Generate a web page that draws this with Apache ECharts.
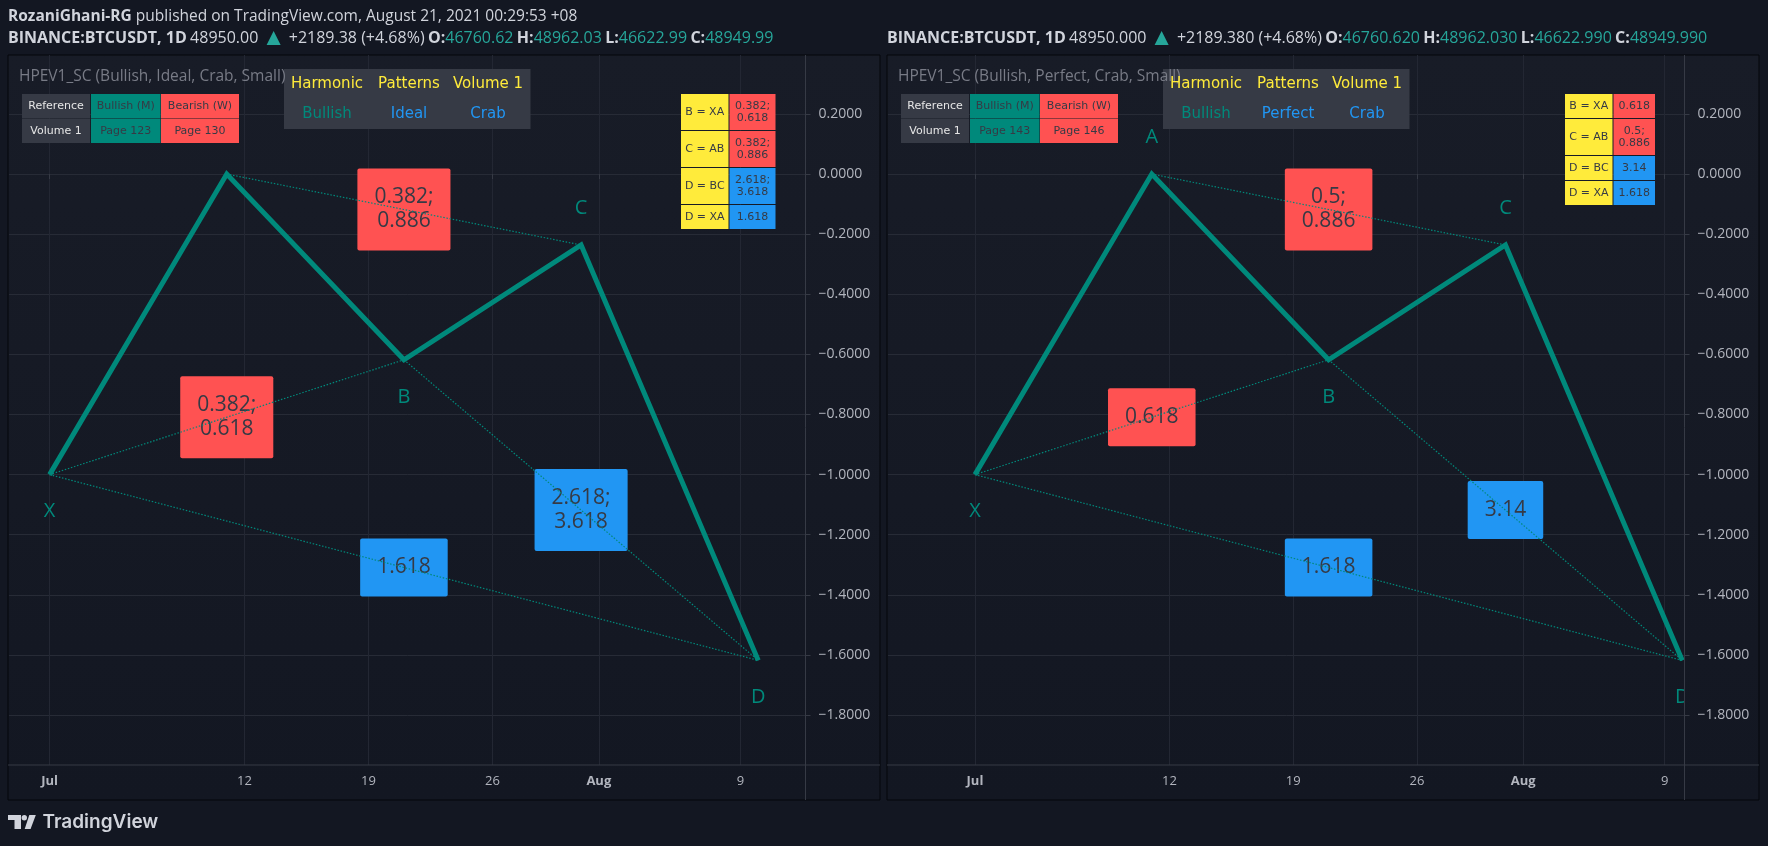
<!DOCTYPE html>
<html>
<head>
<meta charset="utf-8">
<title>HPEV1_SC Bullish Crab</title>
<style>
    html, body { margin: 0; padding: 0; height: 100%; background: #131722; }
    #chart { width: 1768px; height: 846px; }
</style>
<script src="https://cdn.jsdelivr.net/npm/echarts@6/dist/echarts.min.js"></script>
</head>
<body>
<div id="chart"></div>
<script>
const day = s => new Date(s + 'T00:00:00Z').getTime();

// pattern points, same for both panels
const pointNames = ['X', 'A', 'B', 'C', 'D'];
const pointDates = ['2021-07-01', '2021-07-11', '2021-07-21', '2021-07-31', '2021-08-10'];
const pointValues = [-1, 0, -0.618, -0.236, -1.618];
const pointLabelSide = [1, -1, 1, -1, 1]; // 1 = below the point

// dotted legs and the ratio boxes sitting on them
const dottedLegs = [['X', 'B'], ['A', 'C'], ['B', 'D'], ['X', 'D']];
const ratioDates = ['2021-07-11', '2021-07-21', '2021-07-31', '2021-07-21'];
const ratioValues = [-0.809, -0.118, -1.118, -1.309];
const ratioNames = ['B = XA', 'C = AB', 'D = BC', 'D = XA'];
const ratioColors = ['#ff5252', '#ff5252', '#2196f3', '#2196f3'];
const idealRatios = ['0.382;\n0.618', '0.382;\n0.886', '2.618;\n3.618', '1.618'];
const perfectRatios = ['0.618', '0.5;\n0.886', '3.14', '1.618'];

// axes
const priceTicks = [0.2, 0, -0.2, -0.4, -0.6, -0.8, -1, -1.2, -1.4, -1.6, -1.8];
const timeTicks = ['2021-07-01', '2021-07-12', '2021-07-19', '2021-07-26', '2021-08-01', '2021-08-09'];
const timeTickLabels = ['Jul', '12', '19', '26', 'Aug', '9'];
const monthTicks = ['Jul', 'Aug'];

// header texts
const publishedBy = 'RozaniGhani-RG';
const publishedOn = ' published on TradingView.com, August 21, 2021 00:29:53 +08';
const logoText = 'TradingView';
const symbolName = 'BINANCE:BTCUSDT, 1D';
const idealQuote = ['48950.00', '+2189.38 (+4.68%)', '46760.62', '48962.03', '46622.99', '48949.99'];
const perfectQuote = ['48950.000', '+2189.380 (+4.68%)', '46760.620', '48962.030', '46622.990', '48949.990'];

const headerRow = ['Harmonic', 'Patterns', 'Volume 1'];
const referenceRow = ['Reference', 'Bullish (M)', 'Bearish (W)'];

const TEAL = '#00897b';
const RED = '#ff5252';
const BLUE = '#2196f3';
const YELLOW = '#ffeb3b';
const DARK = '#363a45';
const GRID_H = '#272b36';
const GRID_V = '#232733';
const AXIS_TEXT = '#b2b5be';
const UI_FONT = '"Open Sans", "Noto Sans", sans-serif';
const TABLE_FONT = '"DejaVu Sans", sans-serif';

const panels = [
    {
        dx: 0, left: 9, right: 805.5, frameRight: 880,
        minDate: day('2021-06-28') + 17 * 3600e3, maxDate: day('2021-08-12') + 16 * 3600e3,
        quote: idealQuote, quoteX: 8,
        title: 'HPEV1_SC (Bullish, Ideal, Crab, Small)',
        kind: 'Ideal', pages: ['Page 123', 'Page 130'],
        ratios: idealRatios,
        ratioTable: { x: 681, split: 729, right: 775.5, rows: [[94, 130], [131, 167], [168, 204], [205, 229]] }
    },
    {
        dx: 879, left: 888, right: 1684.5, frameRight: 1759,
        minDate: day('2021-06-26') + 2 * 3600e3, maxDate: day('2021-08-10') + 3 * 3600e3,
        quote: perfectQuote, quoteX: 887,
        title: 'HPEV1_SC (Bullish, Perfect, Crab, Small)',
        kind: 'Perfect', pages: ['Page 143', 'Page 146'],
        ratios: perfectRatios,
        ratioTable: { x: 1565, split: 1613, right: 1655, rows: [[94, 118], [119, 155], [156, 180], [181, 205]] }
    }
];

const TOP = 55, AXIS_Y = 765, BOTTOM = 800;

function cell(x, y, w, h, fill, text, color, fontSize, font, fontWeight) {
    const cx = x + w / 2, cy = y + h / 2;
    const out = [{
        type: 'rect', z: 20,
        shape: { x, y, width: w, height: h },
        style: { fill }
    }];
    if (text) {
        out.push({
            type: 'text', z: 21, x: cx, y: cy,
            style: {
                text, fill: color, font: `${fontWeight || 'normal'} ${fontSize}px ${font || TABLE_FONT}`,
                align: 'center', verticalAlign: 'middle', lineHeight: fontSize + 1
            }
        });
    }
    return out;
}

function quoteText(panel) {
    const q = panel.quote;
    return {
        type: 'text', z: 30, x: panel.quoteX, y: 38.5,
        style: {
            text: `{b|${symbolName}} {n|${q[0]}} {t|▲} {n|${q[1]}} {b|O:}{v|${q[2]}} {b|H:}{v|${q[3]}} {b|L:}{v|${q[4]}} {b|C:}{v|${q[5]}}`,
            verticalAlign: 'middle',
            rich: {
                b: { font: `bold 16px ${UI_FONT}`, fill: '#d1d4dc' },
                n: { font: `16px ${UI_FONT}`, fill: '#d1d4dc' },
                v: { font: `16px ${UI_FONT}`, fill: '#26a69a' },
                t: { font: `24px ${UI_FONT}`, fill: '#26a69a' }
            }
        }
    };
}

function buildPanelGraphics(panel) {
    const dx = panel.dx;
    let out = [
        {
            type: 'rect', z: -5,
            shape: { x: panel.left - 1, y: TOP, width: panel.frameRight - panel.left + 1, height: BOTTOM - TOP },
            style: {
                fill: new echarts.graphic.LinearGradient(0, 0, 0, 1, [
                    { offset: 0, color: '#181c27' }, { offset: 1, color: '#131722' }
                ]),
                stroke: '#05070b', lineWidth: 1
            }
        },
        {
            type: 'line', z: 5,
            shape: { x1: panel.left - 1, y1: AXIS_Y, x2: panel.frameRight, y2: AXIS_Y },
            style: { stroke: DARK, lineWidth: 1 }
        },
        {
            type: 'line', z: 5,
            shape: { x1: panel.right, y1: TOP, x2: panel.right, y2: BOTTOM },
            style: { stroke: DARK, lineWidth: 1 }
        },
        quoteText(panel),
        {
            type: 'text', z: 30, x: 19 + dx, y: 77,
            style: { text: panel.title, fill: '#787b86', font: `15.5px ${UI_FONT}`, verticalAlign: 'middle' }
        }
    ];

    // Harmonic Patterns heading
    out = out.concat(cell(284 + dx, 69, 246.5, 60, DARK));
    const heading = [headerRow, ['Bullish', panel.kind, 'Crab']];
    const headingColors = [[YELLOW, YELLOW, YELLOW], [TEAL, BLUE, BLUE]];
    [84.5, 114].forEach((y, r) => {
        [327, 409, 488].forEach((x, c) => {
            out.push({
                type: 'text', z: 31, x: x + dx, y,
                style: {
                    text: heading[r][c], fill: headingColors[r][c], font: `15px ${TABLE_FONT}`,
                    align: 'center', verticalAlign: 'middle'
                }
            });
        });
    });

    // reference table
    const refRows = [referenceRow, ['Volume 1', ...panel.pages]];
    [[94, 24.5], [119, 24]].forEach(([y, h], r) => {
        out = out.concat(cell(22 + dx, y, 68, h, DARK, refRows[r][0], '#e6e6e6', 11));
        out = out.concat(cell(91 + dx, y, 69.5, h, TEAL, refRows[r][1], DARK, 11));
        out = out.concat(cell(161 + dx, y, 78, h, RED, refRows[r][2], DARK, 11));
    });

    // ratio table
    const t = panel.ratioTable;
    t.rows.forEach(([y0, y1], r) => {
        out = out.concat(cell(t.x, y0, t.split - t.x - 0.5, y1 - y0, YELLOW, ratioNames[r], DARK, 11));
        out = out.concat(cell(t.split + 0.5, y0, t.right - t.split - 0.5, y1 - y0, ratioColors[r], panel.ratios[r], DARK, 11));
    });
    return out;
}

const LOGO = '#d1d4dc';
const logoGraphics = [
    { type: 'polygon', z: 30, shape: { points: [[8, 815], [21, 815], [21, 829], [14.5, 829], [14.5, 820], [8, 820]] }, style: { fill: LOGO } },
    { type: 'circle', z: 30, shape: { cx: 24.3, cy: 817.7, r: 2.7 }, style: { fill: LOGO } },
    { type: 'polygon', z: 30, shape: { points: [[29.3, 815], [35.8, 815], [30.6, 829], [24.7, 829]] }, style: { fill: LOGO } },
    {
        type: 'text', z: 30, x: 42.5, y: 822,
        style: { text: logoText, fill: LOGO, font: `600 19px Inter, ${UI_FONT}`, verticalAlign: 'middle' }
    }
];

const publishedGraphic = {
    type: 'text', z: 30, x: 8, y: 17,
    style: {
        text: `{b|${publishedBy}}{n|${publishedOn}}`,
        verticalAlign: 'middle',
        rich: {
            b: { font: `bold 15.5px ${UI_FONT}`, fill: '#d1d4dc' },
            n: { font: `15.5px ${UI_FONT}`, fill: '#d1d4dc' }
        }
    }
};

function pointCoord(name) {
    const i = pointNames.indexOf(name);
    return [day(pointDates[i]), pointValues[i]];
}

function buildSeries(panelIndex) {
    const panel = panels[panelIndex];
    const axisIds = { xAxisIndex: panelIndex, yAxisIndex: panelIndex };
    const series = [];

    // ratio boxes sit under the dotted legs
    series.push({
        ...axisIds,
        type: 'custom',
        z: 2,
        clip: true,
        silent: true,
        data: ratioDates.map((d, i) => [day(d), ratioValues[i]]),
        renderItem: (params, api) => {
            const p = api.coord([api.value(0), api.value(1)]);
            return {
                type: 'text',
                x: p[0],
                y: p[1],
                style: {
                    text: panel.ratios[params.dataIndex],
                    fill: DARK,
                    font: `21px ${UI_FONT}`,
                    lineHeight: 24,
                    align: 'center',
                    verticalAlign: 'middle',
                    backgroundColor: ratioColors[params.dataIndex],
                    padding: [17, 17],
                    borderRadius: 2
                }
            };
        }
    });

    dottedLegs.forEach(leg => {
        series.push({
            ...axisIds,
            type: 'line',
            z: 3,
            silent: true,
            animation: false,
            symbol: 'none',
            data: leg.map(pointCoord),
            lineStyle: { color: TEAL, width: 1.2, type: [1.5, 1.7] }
        });
    });

    series.push({
        ...axisIds,
        type: 'line',
        z: 4,
        silent: true,
        animation: false,
        symbol: 'none',
        data: pointNames.map(pointCoord),
        lineStyle: { color: TEAL, width: 5, join: 'miter', cap: 'butt' }
    });

    // X A B C D letters, clipped at the price axis like the original
    series.push({
        ...axisIds,
        type: 'custom',
        z: 4,
        clip: true,
        silent: true,
        data: pointNames.map(pointCoord),
        renderItem: (params, api) => {
            const p = api.coord([api.value(0), api.value(1)]);
            return {
                type: 'text',
                x: p[0],
                y: p[1] + pointLabelSide[params.dataIndex] * 37,
                style: {
                    text: pointNames[params.dataIndex],
                    fill: TEAL,
                    font: `20px ${UI_FONT}`,
                    align: 'center',
                    verticalAlign: 'middle'
                }
            };
        }
    });
    return series;
}

const myChart = echarts.init(document.getElementById('chart'), null, { renderer: 'canvas' });

const option = {
    animation: false,
    backgroundColor: '#131722',
    grid: panels.map(p => ({
        left: p.left,
        width: p.right - p.left,
        top: TOP,
        height: AXIS_Y - TOP
    })),
    xAxis: panels.map((p, i) => ({
        type: 'value',
        gridIndex: i,
        min: p.minDate,
        max: p.maxDate,
        axisLine: { show: false },
        axisTick: { show: true, length: 5, lineStyle: { color: DARK }, customValues: timeTicks.map(day) },
        splitLine: { show: true, lineStyle: { color: GRID_V, width: 1 } },
        axisLabel: {
            customValues: timeTicks.map(day),
            color: AXIS_TEXT,
            fontFamily: UI_FONT,
            fontSize: 13,
            margin: 10,
            formatter: value => {
                const label = timeTickLabels[timeTicks.map(day).indexOf(value)];
                return monthTicks.includes(label) ? `{m|${label}}` : label;
            },
            rich: { m: { fontWeight: 'bold', fontFamily: UI_FONT, fontSize: 13, color: AXIS_TEXT } }
        }
    })),
    yAxis: panels.map((p, i) => ({
        type: 'value',
        gridIndex: i,
        position: 'right',
        min: -1.966,
        max: 0.396,
        axisLine: { show: false },
        axisTick: { show: true, length: 5, lineStyle: { color: DARK }, customValues: priceTicks },
        splitLine: { show: true, lineStyle: { color: GRID_H, width: 1 } },
        axisLabel: {
            customValues: priceTicks,
            color: AXIS_TEXT,
            fontFamily: UI_FONT,
            fontSize: 14,
            margin: 13,
            formatter: value => value.toFixed(4).replace('-', '\u2212')
        }
    })),
    series: [...buildSeries(0), ...buildSeries(1)],
    graphic: { elements: [publishedGraphic, ...logoGraphics, ...panels.flatMap(buildPanelGraphics)] }
};

myChart.setOption(option);
</script>
</body>
</html>
